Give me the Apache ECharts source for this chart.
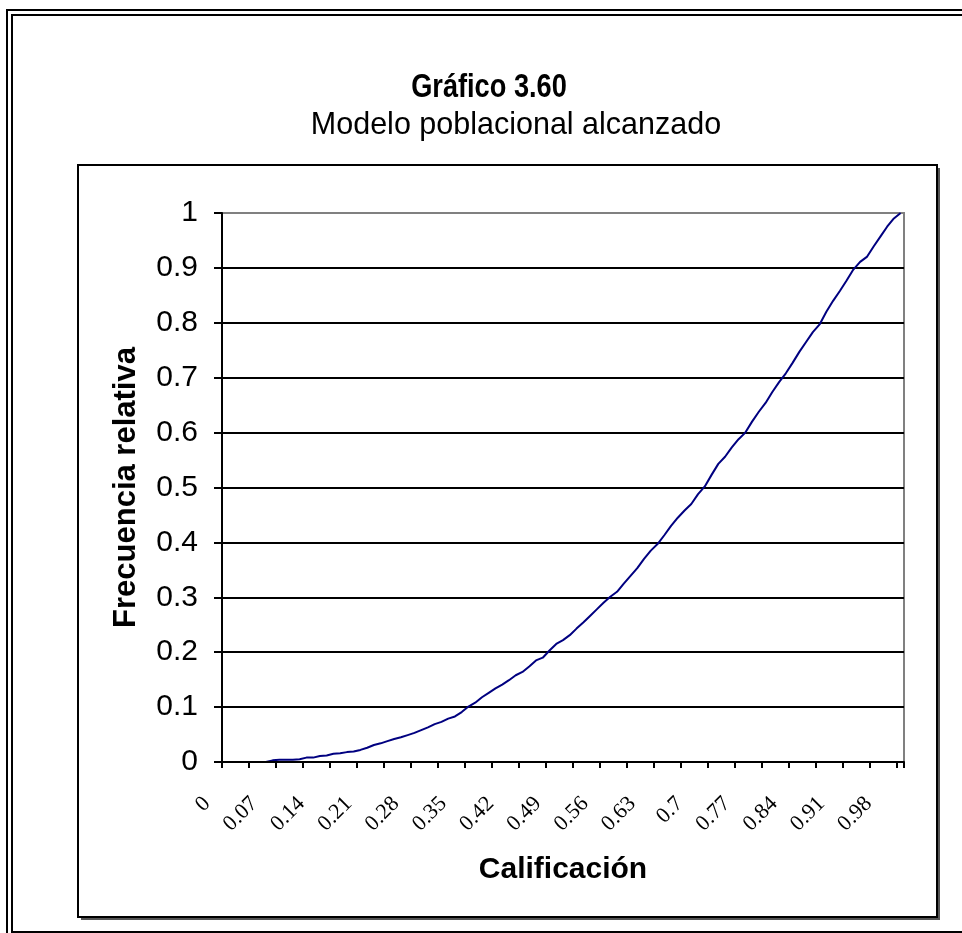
<!DOCTYPE html>
<html>
<head>
<meta charset="utf-8">
<script src="https://cdn.jsdelivr.net/npm/echarts@6/dist/echarts.min.js"></script>
<style>html,body{margin:0;padding:0;background:#fff;}#chart{width:962px;height:933px;}</style>
</head>
<body>
<div id="chart"></div>
<script>
const categories = ["0","0.01","0.02","0.03","0.04","0.05","0.06","0.07","0.08","0.09",
"0.1","0.11","0.12","0.13","0.14","0.15","0.16","0.17","0.18","0.19",
"0.2","0.21","0.22","0.23","0.24","0.25","0.26","0.27","0.28","0.29",
"0.3","0.31","0.32","0.33","0.34","0.35","0.36","0.37","0.38","0.39",
"0.4","0.41","0.42","0.43","0.44","0.45","0.46","0.47","0.48","0.49",
"0.5","0.51","0.52","0.53","0.54","0.55","0.56","0.57","0.58","0.59",
"0.6","0.61","0.62","0.63","0.64","0.65","0.66","0.67","0.68","0.69",
"0.7","0.71","0.72","0.73","0.74","0.75","0.76","0.77","0.78","0.79",
"0.8","0.81","0.82","0.83","0.84","0.85","0.86","0.87","0.88","0.89",
"0.9","0.91","0.92","0.93","0.94","0.95","0.96","0.97","0.98","0.99","1"];

const frecuencia = [0,0,0,0,0,0,0,0.003,0.004,0.004,
0.004,0.005,0.008,0.008,0.011,0.012,0.015,0.016,0.018,0.019,
0.022,0.026,0.031,0.034,0.038,0.042,0.045,0.049,0.053,0.058,
0.063,0.069,0.073,0.079,0.083,0.091,0.101,0.108,0.118,0.126,
0.134,0.141,0.149,0.158,0.164,0.174,0.185,0.190,0.203,0.215,
0.222,0.231,0.243,0.254,0.266,0.278,0.290,0.301,0.310,0.325,
0.339,0.353,0.370,0.385,0.397,0.413,0.430,0.445,0.458,0.470,
0.488,0.502,0.523,0.543,0.556,0.573,0.588,0.600,0.620,0.638,
0.654,0.674,0.692,0.708,0.727,0.747,0.765,0.783,0.797,0.820,
0.840,0.858,0.877,0.897,0.911,0.920,0.939,0.957,0.975,0.990,1.0];

const titulo = "Gráfico 3.60";
const subtitulo = "Modelo poblacional alcanzado";
const ejeX = "Calificación";
const ejeY = "Frecuencia relativa";

const chart = echarts.init(document.getElementById('chart'), null, {renderer: 'canvas'});
const sans = 'Liberation Sans, Arial, sans-serif';
const serif = 'Liberation Serif, Times New Roman, serif';
const gridColors = ['#000','#000','#000','#000','#000','#000','#000','#000','#000','#000','#808080'];

chart.setOption({
  backgroundColor: '#fff',
  animation: false,
  title: [
    {text: subtitulo, left: 511, top: 105, textAlign: 'center',
     textStyle: {fontFamily: sans, fontSize: 30.5, fontWeight: 'normal', color: '#000'}}
  ],
  graphic: [
    {type: 'rect', shape: {x: 7, y: 10, width: 1000, height: 1000}, style: {fill: 'none', stroke: '#000', lineWidth: 2}, silent: true},
    {type: 'rect', shape: {x: 12, y: 15, width: 1000, height: 917}, style: {fill: 'none', stroke: '#000', lineWidth: 2}, silent: true},
    {type: 'polyline', shape: {points: [[81, 919], [939, 919], [939, 168]]}, style: {fill: 'none', stroke: '#555', lineWidth: 2}, silent: true},
    {type: 'rect', shape: {x: 78, y: 165, width: 859, height: 752}, style: {fill: 'none', stroke: '#000', lineWidth: 2}, silent: true},
    {type: 'text', x: 489, y: 88, scaleX: 0.8, silent: true,
     style: {text: titulo, x: 0, y: 0, align: 'center', verticalAlign: 'middle',
             font: 'bold 34px Liberation Sans, Arial, sans-serif', fill: '#000'}}
  ],
  grid: {left: 222, right: 58, top: 213, bottom: 171, show: true, borderColor: '#808080', borderWidth: 2, backgroundColor: 'transparent'},
  xAxis: {
    type: 'category', data: categories, boundaryGap: true, z: 5,
    name: ejeX, nameLocation: 'middle', nameGap: 93,
    nameTextStyle: {fontFamily: sans, fontSize: 30, fontWeight: 'bold', color: '#000'},
    axisLine: {show: true, lineStyle: {color: '#000', width: 2}},
    axisTick: {show: true, interval: 3, length: 6, lineStyle: {color: '#000', width: 2}},
    axisLabel: {interval: 6, rotate: 45, margin: 20, padding: [0, 26, 0, 0], fontFamily: serif, fontSize: 22, color: '#000'},
    splitLine: {show: false}
  },
  yAxis: {
    type: 'value', min: 0, max: 1, interval: 0.1,
    name: ejeY, nameLocation: 'middle', nameGap: 80,
    nameTextStyle: {fontFamily: sans, fontSize: 31, fontWeight: 'bold', color: '#000'},
    axisLine: {show: true, lineStyle: {color: '#000', width: 2}},
    axisTick: {show: true, length: 8, lineStyle: {color: '#000', width: 2}},
    axisLabel: {margin: 24, fontFamily: sans, fontSize: 30, color: '#000'},
    splitLine: {show: true, lineStyle: {color: gridColors, width: 2}}
  },
  series: [{
    type: 'line', data: frecuencia, showSymbol: false, symbol: 'none',
    lineStyle: {color: '#000080', width: 2}, z: 2
  }]
});
</script>
</body>
</html>
